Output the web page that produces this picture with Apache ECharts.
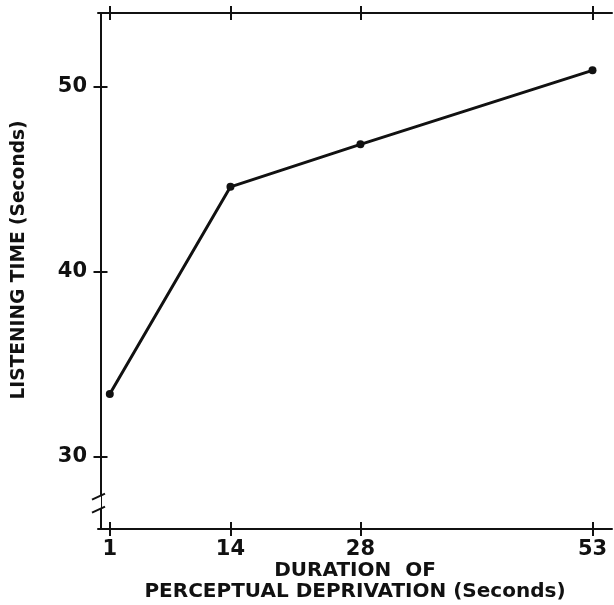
<!DOCTYPE html>
<html>
<head>
<meta charset="utf-8">
<script src="https://cdn.jsdelivr.net/npm/echarts@6/dist/echarts.min.js"></script>
<style>
  html, body { margin: 0; padding: 0; background: #fff; }
  #chart { width: 614px; height: 605px; }
</style>
</head>
<body>
<div id="chart"></div>
<script>
// duration of perceptual deprivation (s) vs listening time (s)
const durations = [1, 14, 28, 53];
const listening = [33.4, 44.6, 46.9, 50.9];
const xTicks = [1, 14, 28, 53];
const yTicks = [30, 40, 50];
const yBreak = [27.2, 27.9]; // gap drawn in the y axis line

const font = 'DejaVu Sans';
const ink = '#111';

const chart = echarts.init(document.getElementById('chart'));

const xRange = { min: -0.27, max: 55.1 };
const yRange = { min: 26.1, max: 54 };
const line = { show: true, lineStyle: { color: ink, width: 2 } };
const tick = (inside) => ({
    show: true, inside: inside, length: 7, customValues: xTicks,
    lineStyle: { color: ink, width: 2 }
});
const ytick = (inside) => ({
    show: true, inside: inside, length: 7, customValues: yTicks,
    lineStyle: { color: ink, width: 2 }
});
const grid = { left: 98, right: 2, top: 13, bottom: 76, outerBoundsMode: 'none', containLabel: false };

const option = {
    animation: false,
    backgroundColor: '#fff',
    grid: [grid, Object.assign({}, grid)],
    xAxis: [
        {
            gridIndex: 0, type: 'value', position: 'bottom', ...xRange,
            axisLine: line, axisTick: tick(false), splitLine: { show: false },
            axisLabel: {
                customValues: xTicks, margin: 10, color: ink,
                fontFamily: font, fontSize: 21, fontWeight: 'bold'
            },
            name: 'DURATION  OF\nPERCEPTUAL DEPRIVATION (Seconds)',
            nameLocation: 'middle', nameGap: 31, nameMoveOverlap: false,
            nameTextStyle: {
                color: ink, fontFamily: font, fontSize: 20, fontWeight: 'bold', lineHeight: 21
            }
        },
        {
            gridIndex: 0, type: 'value', position: 'top', ...xRange,
            axisLine: line, axisTick: tick(false), axisLabel: { show: false },
            splitLine: { show: false }
        },
        {
            gridIndex: 1, type: 'value', position: 'bottom', ...xRange,
            axisLine: { show: false }, axisTick: tick(true), axisLabel: { show: false },
            splitLine: { show: false }
        },
        {
            gridIndex: 1, type: 'value', position: 'top', ...xRange,
            axisLine: { show: false }, axisTick: tick(true), axisLabel: { show: false },
            splitLine: { show: false }
        }
    ],
    yAxis: [
        {
            gridIndex: 0, type: 'value', position: 'left', ...yRange,
            axisLine: line, axisTick: ytick(false), splitLine: { show: false },
            axisLabel: {
                customValues: yTicks, margin: 11, color: ink,
                fontFamily: font, fontSize: 21, fontWeight: 'bold'
            },
            name: 'LISTENING TIME (Seconds)',
            nameLocation: 'middle', nameGap: 69, nameRotate: 90,
            nameTextStyle: {
                color: ink, fontFamily: font, fontSize: 18.6, fontWeight: 'bold',
                padding: [0, 0, 0, 22]
            }
        },
        {
            gridIndex: 0, type: 'value', position: 'right', ...yRange,
            axisLine: line, axisTick: { show: false }, axisLabel: { show: false },
            splitLine: { show: false }
        },
        {
            gridIndex: 1, type: 'value', position: 'left', ...yRange,
            axisLine: { show: false }, axisTick: ytick(true), axisLabel: { show: false },
            splitLine: { show: false }
        },
        {
            gridIndex: 1, type: 'value', position: 'right', ...yRange,
            axisLine: { show: false }, axisTick: ytick(true), axisLabel: { show: false },
            splitLine: { show: false }
        }
    ],
    series: [
        {
            type: 'line',
            xAxisIndex: 0,
            yAxisIndex: 0,
            data: durations.map((d, i) => [d, listening[i]]),
            symbol: 'circle',
            symbolSize: 8,
            itemStyle: { color: ink },
            lineStyle: { color: ink, width: 3 }
        }
    ]
};

chart.setOption(option);

// break marks on the y axis
const breakTop = chart.convertToPixel({ yAxisIndex: 0 }, yBreak[1]);
const breakBot = chart.convertToPixel({ yAxisIndex: 0 }, yBreak[0]);
const axisX = chart.convertToPixel({ xAxisIndex: 0 }, xRange.min);
chart.setOption({
    graphic: [
        {
            type: 'rect', z: 100,
            shape: { x: axisX - 3, y: breakTop, width: 6, height: breakBot - breakTop },
            style: { fill: '#fff' }
        },
        {
            type: 'line', z: 101,
            shape: { x1: axisX - 6, y1: breakTop + 4, x2: axisX + 7, y2: breakTop - 2 },
            style: { stroke: ink, lineWidth: 2 }
        },
        {
            type: 'line', z: 101,
            shape: { x1: axisX - 6, y1: breakBot + 4, x2: axisX + 7, y2: breakBot - 2 },
            style: { stroke: ink, lineWidth: 2 }
        }
    ]
});
</script>
</body>
</html>
